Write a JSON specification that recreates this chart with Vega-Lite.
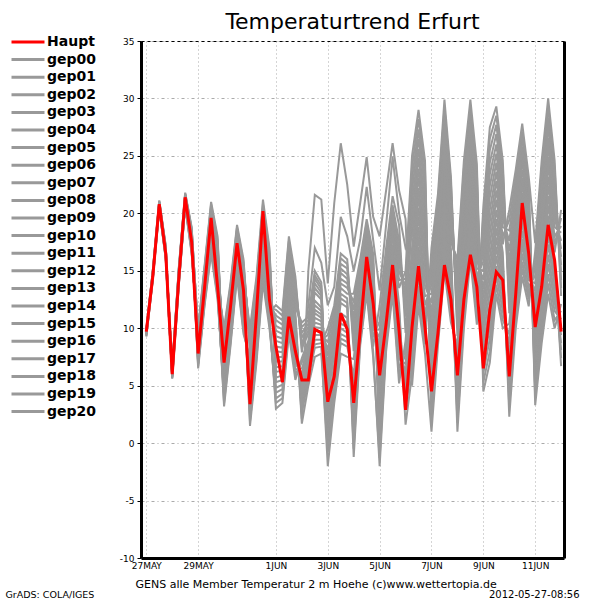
{
"$schema": "https://vega.github.io/schema/vega-lite/v6.json",
"width": 423, "height": 517,
"autosize": {"type": "none"},
"padding": {"left": 141, "top": 41, "right": 36, "bottom": 42},
"background": "white",
"title": {"text": "Temperaturtrend Erfurt", "font": "DejaVu Sans", "fontSize": 22, "fontWeight": "normal", "color": "black", "anchor": "middle", "frame": "group", "baseline": "alphabetic", "offset": -16},
"data": {"values": [
{"t":"2012-05-27T00:00","Haupt":9.7,"gep00":9.3,"gep01":9.3,"gep02":9.4,"gep03":9.4,"gep04":9.4,"gep05":9.5,"gep06":9.5,"gep07":9.5,"gep08":9.5,"gep09":9.6,"gep10":9.6,"gep11":9.6,"gep12":9.7,"gep13":9.7,"gep14":9.7,"gep15":9.8,"gep16":9.8,"gep17":9.8,"gep18":9.8,"gep19":9.9,"gep20":9.9},
{"t":"2012-05-27T06:00","Haupt":14.5,"gep00":14.2,"gep01":14.2,"gep02":14.3,"gep03":14.3,"gep04":14.4,"gep05":14.4,"gep06":14.4,"gep07":14.5,"gep08":14.5,"gep09":14.6,"gep10":14.6,"gep11":14.6,"gep12":14.7,"gep13":14.7,"gep14":14.8,"gep15":14.8,"gep16":14.8,"gep17":14.9,"gep18":14.9,"gep19":15.0,"gep20":15.0},
{"t":"2012-05-27T12:00","Haupt":20.8,"gep00":20.4,"gep01":20.4,"gep02":20.5,"gep03":20.5,"gep04":20.5,"gep05":20.6,"gep06":20.6,"gep07":20.6,"gep08":20.7,"gep09":20.7,"gep10":20.8,"gep11":20.8,"gep12":20.8,"gep13":20.9,"gep14":20.9,"gep15":20.9,"gep16":21.0,"gep17":21.0,"gep18":21.0,"gep19":21.1,"gep20":21.1},
{"t":"2012-05-27T18:00","Haupt":16.5,"gep00":16.0,"gep01":16.1,"gep02":16.1,"gep03":16.2,"gep04":16.2,"gep05":16.3,"gep06":16.4,"gep07":16.4,"gep08":16.5,"gep09":16.5,"gep10":16.6,"gep11":16.7,"gep12":16.7,"gep13":16.8,"gep14":16.8,"gep15":16.9,"gep16":17.0,"gep17":17.0,"gep18":17.1,"gep19":17.1,"gep20":17.2},
{"t":"2012-05-28T00:00","Haupt":6.0,"gep00":5.85,"gep01":5.8,"gep02":5.75,"gep03":5.7,"gep04":5.65,"gep05":5.6,"gep06":6.6,"gep07":6.55,"gep08":6.5,"gep09":6.45,"gep10":6.4,"gep11":6.35,"gep12":6.3,"gep13":6.25,"gep14":6.2,"gep15":6.15,"gep16":6.1,"gep17":6.05,"gep18":6.0,"gep19":5.95,"gep20":5.9},
{"t":"2012-05-28T06:00","Haupt":14.2,"gep00":14.0,"gep01":13.9,"gep02":13.8,"gep03":13.8,"gep04":13.7,"gep05":13.6,"gep06":15.2,"gep07":15.1,"gep08":15.0,"gep09":15.0,"gep10":14.9,"gep11":14.8,"gep12":14.7,"gep13":14.6,"gep14":14.6,"gep15":14.5,"gep16":14.4,"gep17":14.3,"gep18":14.2,"gep19":14.2,"gep20":14.1},
{"t":"2012-05-28T12:00","Haupt":21.4,"gep00":20.9,"gep01":20.8,"gep02":20.8,"gep03":20.7,"gep04":20.7,"gep05":20.6,"gep06":21.8,"gep07":21.7,"gep08":21.7,"gep09":21.6,"gep10":21.6,"gep11":21.5,"gep12":21.4,"gep13":21.4,"gep14":21.3,"gep15":21.3,"gep16":21.2,"gep17":21.1,"gep18":21.1,"gep19":21.0,"gep20":21.0},
{"t":"2012-05-28T18:00","Haupt":17.5,"gep00":17.1,"gep01":17.0,"gep02":16.8,"gep03":16.7,"gep04":16.6,"gep05":16.5,"gep06":18.8,"gep07":18.7,"gep08":18.6,"gep09":18.5,"gep10":18.3,"gep11":18.2,"gep12":18.1,"gep13":18.0,"gep14":17.9,"gep15":17.8,"gep16":17.7,"gep17":17.5,"gep18":17.4,"gep19":17.3,"gep20":17.2},
{"t":"2012-05-29T00:00","Haupt":7.8,"gep00":8.3,"gep01":8.4,"gep02":8.6,"gep03":8.8,"gep04":9.0,"gep05":9.1,"gep06":9.3,"gep07":9.5,"gep08":9.7,"gep09":9.8,"gep10":10.0,"gep11":6.5,"gep12":6.7,"gep13":6.9,"gep14":7.0,"gep15":7.2,"gep16":7.4,"gep17":7.6,"gep18":7.7,"gep19":7.9,"gep20":8.1},
{"t":"2012-05-29T06:00","Haupt":13.6,"gep00":13.8,"gep01":13.9,"gep02":14.1,"gep03":14.3,"gep04":14.5,"gep05":14.6,"gep06":14.8,"gep07":15.0,"gep08":15.2,"gep09":15.3,"gep10":15.5,"gep11":12.0,"gep12":12.2,"gep13":12.4,"gep14":12.5,"gep15":12.7,"gep16":12.9,"gep17":13.1,"gep18":13.2,"gep19":13.4,"gep20":13.6},
{"t":"2012-05-29T12:00","Haupt":19.6,"gep00":18.8,"gep01":19.0,"gep02":19.2,"gep03":19.4,"gep04":19.7,"gep05":19.9,"gep06":20.1,"gep07":20.3,"gep08":20.6,"gep09":20.8,"gep10":21.0,"gep11":16.5,"gep12":16.7,"gep13":17.0,"gep14":17.2,"gep15":17.4,"gep16":17.6,"gep17":17.9,"gep18":18.1,"gep19":18.3,"gep20":18.5},
{"t":"2012-05-29T18:00","Haupt":13.6,"gep00":15.3,"gep01":15.5,"gep02":15.8,"gep03":16.1,"gep04":16.4,"gep05":16.6,"gep06":16.9,"gep07":17.2,"gep08":17.5,"gep09":17.7,"gep10":18.0,"gep11":12.5,"gep12":12.8,"gep13":13.1,"gep14":13.3,"gep15":13.6,"gep16":13.9,"gep17":14.2,"gep18":14.4,"gep19":14.7,"gep20":15.0},
{"t":"2012-05-30T00:00","Haupt":7.0,"gep00":8.3,"gep01":8.0,"gep02":7.6,"gep03":7.3,"gep04":6.9,"gep05":6.6,"gep06":6.3,"gep07":5.9,"gep08":5.6,"gep09":5.2,"gep10":4.9,"gep11":4.6,"gep12":4.2,"gep13":3.9,"gep14":3.5,"gep15":3.2,"gep16":10.0,"gep17":9.7,"gep18":9.3,"gep19":9.0,"gep20":8.6},
{"t":"2012-05-30T06:00","Haupt":11.9,"gep00":12.6,"gep01":12.4,"gep02":12.1,"gep03":11.8,"gep04":11.5,"gep05":11.3,"gep06":11.0,"gep07":10.7,"gep08":10.4,"gep09":10.2,"gep10":9.9,"gep11":9.6,"gep12":9.3,"gep13":9.1,"gep14":8.8,"gep15":8.5,"gep16":14.0,"gep17":13.7,"gep18":13.5,"gep19":13.2,"gep20":12.9},
{"t":"2012-05-30T12:00","Haupt":17.4,"gep00":17.9,"gep01":17.7,"gep02":17.4,"gep03":17.2,"gep04":17.0,"gep05":16.8,"gep06":16.5,"gep07":16.3,"gep08":16.1,"gep09":15.9,"gep10":15.6,"gep11":15.4,"gep12":15.2,"gep13":15.0,"gep14":14.7,"gep15":14.5,"gep16":19.0,"gep17":18.8,"gep18":18.6,"gep19":18.3,"gep20":18.1},
{"t":"2012-05-30T18:00","Haupt":13.3,"gep00":14.4,"gep01":14.1,"gep02":13.7,"gep03":13.4,"gep04":13.1,"gep05":12.8,"gep06":12.4,"gep07":12.1,"gep08":11.8,"gep09":11.5,"gep10":11.1,"gep11":10.8,"gep12":10.5,"gep13":10.2,"gep14":9.8,"gep15":9.5,"gep16":16.0,"gep17":15.7,"gep18":15.4,"gep19":15.0,"gep20":14.7},
{"t":"2012-05-31T00:00","Haupt":3.4,"gep00":10.0,"gep01":1.5,"gep02":1.9,"gep03":2.4,"gep04":2.8,"gep05":3.2,"gep06":3.6,"gep07":4.1,"gep08":4.5,"gep09":4.9,"gep10":5.3,"gep11":5.8,"gep12":6.2,"gep13":6.6,"gep14":7.0,"gep15":7.5,"gep16":7.9,"gep17":8.3,"gep18":8.7,"gep19":9.2,"gep20":9.6},
{"t":"2012-05-31T06:00","Haupt":11.3,"gep00":14.5,"gep01":7.0,"gep02":7.4,"gep03":7.8,"gep04":8.1,"gep05":8.5,"gep06":8.9,"gep07":9.3,"gep08":9.6,"gep09":10.0,"gep10":10.4,"gep11":10.8,"gep12":11.1,"gep13":11.5,"gep14":11.9,"gep15":12.3,"gep16":12.6,"gep17":13.0,"gep18":13.4,"gep19":13.8,"gep20":14.1},
{"t":"2012-05-31T12:00","Haupt":20.2,"gep00":21.2,"gep01":14.0,"gep02":14.4,"gep03":14.7,"gep04":15.1,"gep05":15.4,"gep06":15.8,"gep07":16.2,"gep08":16.5,"gep09":16.9,"gep10":17.2,"gep11":17.6,"gep12":18.0,"gep13":18.3,"gep14":18.7,"gep15":19.0,"gep16":19.4,"gep17":19.8,"gep18":20.1,"gep19":20.5,"gep20":20.8},
{"t":"2012-05-31T18:00","Haupt":12.5,"gep00":17.0,"gep01":10.0,"gep02":10.4,"gep03":10.7,"gep04":11.1,"gep05":11.4,"gep06":11.8,"gep07":12.1,"gep08":12.5,"gep09":12.8,"gep10":13.2,"gep11":13.5,"gep12":13.9,"gep13":14.2,"gep14":14.6,"gep15":14.9,"gep16":15.3,"gep17":15.6,"gep18":16.0,"gep19":16.3,"gep20":16.7},
{"t":"2012-06-01T00:00","Haupt":8.4,"gep00":4.8,"gep01":4.4,"gep02":3.9,"gep03":3.5,"gep04":3.0,"gep05":12.0,"gep06":11.6,"gep07":11.1,"gep08":10.7,"gep09":10.2,"gep10":9.8,"gep11":9.3,"gep12":8.9,"gep13":8.4,"gep14":8.0,"gep15":7.5,"gep16":7.1,"gep17":6.6,"gep18":6.2,"gep19":5.7,"gep20":5.3},
{"t":"2012-06-01T06:00","Haupt":5.3,"gep00":5.1,"gep01":4.7,"gep02":4.3,"gep03":3.9,"gep04":3.5,"gep05":11.5,"gep06":11.1,"gep07":10.7,"gep08":10.3,"gep09":9.9,"gep10":9.5,"gep11":9.1,"gep12":8.7,"gep13":8.3,"gep14":7.9,"gep15":7.5,"gep16":7.1,"gep17":6.7,"gep18":6.3,"gep19":5.9,"gep20":5.5},
{"t":"2012-06-01T12:00","Haupt":11.0,"gep00":11.2,"gep01":10.8,"gep02":10.4,"gep03":9.9,"gep04":9.5,"gep05":18.0,"gep06":17.6,"gep07":17.2,"gep08":16.7,"gep09":16.3,"gep10":15.9,"gep11":15.5,"gep12":15.0,"gep13":14.6,"gep14":14.2,"gep15":13.8,"gep16":13.3,"gep17":12.9,"gep18":12.5,"gep19":12.1,"gep20":11.6},
{"t":"2012-06-01T18:00","Haupt":8.0,"gep00":7.3,"gep01":6.9,"gep02":6.4,"gep03":6.0,"gep04":5.5,"gep05":14.5,"gep06":14.1,"gep07":13.6,"gep08":13.2,"gep09":12.7,"gep10":12.3,"gep11":11.8,"gep12":11.4,"gep13":10.9,"gep14":10.5,"gep15":10.0,"gep16":9.6,"gep17":9.1,"gep18":8.7,"gep19":8.2,"gep20":7.8},
{"t":"2012-06-02T00:00","Haupt":5.5,"gep00":5.7,"gep01":6.1,"gep02":6.5,"gep03":7.0,"gep04":7.4,"gep05":7.9,"gep06":8.3,"gep07":8.7,"gep08":9.2,"gep09":9.6,"gep10":10.1,"gep11":10.5,"gep12":1.7,"gep13":2.1,"gep14":2.6,"gep15":3.0,"gep16":3.5,"gep17":3.9,"gep18":4.3,"gep19":4.8,"gep20":5.2},
{"t":"2012-06-02T06:00","Haupt":5.5,"gep00":7.7,"gep01":8.0,"gep02":8.3,"gep03":8.6,"gep04":8.9,"gep05":12.0,"gep06":9.5,"gep07":9.8,"gep08":10.1,"gep09":10.4,"gep10":10.7,"gep11":11.0,"gep12":5.0,"gep13":15.0,"gep14":5.6,"gep15":5.9,"gep16":6.2,"gep17":6.5,"gep18":6.8,"gep19":7.1,"gep20":7.4},
{"t":"2012-06-02T12:00","Haupt":9.9,"gep00":10.9,"gep01":11.3,"gep02":11.6,"gep03":12.0,"gep04":12.4,"gep05":17.0,"gep06":13.1,"gep07":13.5,"gep08":13.9,"gep09":14.3,"gep10":14.6,"gep11":15.0,"gep12":7.5,"gep13":21.6,"gep14":8.3,"gep15":8.6,"gep16":9.0,"gep17":9.4,"gep18":9.8,"gep19":10.1,"gep20":10.5},
{"t":"2012-06-02T18:00","Haupt":9.6,"gep00":10.6,"gep01":10.9,"gep02":11.2,"gep03":11.5,"gep04":11.8,"gep05":15.7,"gep06":12.5,"gep07":12.8,"gep08":13.1,"gep09":13.4,"gep10":13.7,"gep11":14.0,"gep12":7.8,"gep13":21.2,"gep14":8.4,"gep15":8.7,"gep16":9.0,"gep17":9.4,"gep18":9.7,"gep19":10.0,"gep20":10.3},
{"t":"2012-06-03T00:00","Haupt":3.6,"gep00":6.4,"gep01":5.8,"gep02":5.2,"gep03":4.6,"gep04":4.0,"gep05":12.0,"gep06":2.8,"gep07":2.2,"gep08":1.6,"gep09":1.0,"gep10":0.4,"gep11":-0.2,"gep12":-0.8,"gep13":13.9,"gep14":-2.0,"gep15":10.0,"gep16":9.4,"gep17":8.8,"gep18":8.2,"gep19":7.6,"gep20":7.0},
{"t":"2012-06-03T06:00","Haupt":5.8,"gep00":9.5,"gep01":9.0,"gep02":8.6,"gep03":8.2,"gep04":7.8,"gep05":13.6,"gep06":6.9,"gep07":6.5,"gep08":6.1,"gep09":5.6,"gep10":5.2,"gep11":4.8,"gep12":4.4,"gep13":20.9,"gep14":3.5,"gep15":12.0,"gep16":11.6,"gep17":11.2,"gep18":10.7,"gep19":10.3,"gep20":9.9},
{"t":"2012-06-03T12:00","Haupt":11.3,"gep00":13.9,"gep01":13.5,"gep02":13.0,"gep03":12.6,"gep04":12.2,"gep05":19.7,"gep06":11.3,"gep07":10.8,"gep08":10.4,"gep09":10.0,"gep10":9.5,"gep11":9.1,"gep12":8.7,"gep13":26.1,"gep14":7.8,"gep15":16.5,"gep16":16.1,"gep17":15.6,"gep18":15.2,"gep19":14.8,"gep20":14.3},
{"t":"2012-06-03T18:00","Haupt":9.9,"gep00":13.5,"gep01":13.0,"gep02":12.6,"gep03":12.2,"gep04":11.8,"gep05":18.0,"gep06":10.9,"gep07":10.5,"gep08":10.1,"gep09":9.6,"gep10":9.2,"gep11":8.8,"gep12":8.4,"gep13":22.5,"gep14":7.5,"gep15":16.0,"gep16":15.6,"gep17":15.2,"gep18":14.7,"gep19":14.3,"gep20":13.9},
{"t":"2012-06-04T00:00","Haupt":3.5,"gep00":12.3,"gep01":13.0,"gep02":-1.2,"gep03":-0.5,"gep04":0.2,"gep05":15.0,"gep06":1.6,"gep07":2.4,"gep08":3.1,"gep09":3.8,"gep10":4.5,"gep11":5.2,"gep12":5.9,"gep13":17.1,"gep14":7.3,"gep15":8.0,"gep16":8.7,"gep17":9.5,"gep18":10.2,"gep19":10.9,"gep20":11.6},
{"t":"2012-06-04T06:00","Haupt":9.8,"gep00":15.6,"gep01":16.0,"gep02":8.5,"gep03":8.9,"gep04":9.3,"gep05":17.7,"gep06":10.0,"gep07":10.4,"gep08":10.8,"gep09":11.1,"gep10":11.5,"gep11":11.9,"gep12":12.3,"gep13":20.9,"gep14":13.0,"gep15":13.4,"gep16":13.8,"gep17":14.1,"gep18":14.5,"gep19":14.9,"gep20":15.3},
{"t":"2012-06-04T12:00","Haupt":16.2,"gep00":19.2,"gep01":19.5,"gep02":13.0,"gep03":13.3,"gep04":13.7,"gep05":22.3,"gep06":14.3,"gep07":14.6,"gep08":15.0,"gep09":15.3,"gep10":15.6,"gep11":15.9,"gep12":16.3,"gep13":24.9,"gep14":16.9,"gep15":17.2,"gep16":17.6,"gep17":17.9,"gep18":18.2,"gep19":18.5,"gep20":18.9},
{"t":"2012-06-04T18:00","Haupt":12.2,"gep00":16.1,"gep01":16.5,"gep02":7.5,"gep03":8.0,"gep04":8.4,"gep05":17.7,"gep06":9.3,"gep07":9.8,"gep08":10.2,"gep09":10.7,"gep10":11.1,"gep11":11.6,"gep12":12.0,"gep13":19.7,"gep14":12.9,"gep15":13.4,"gep16":13.8,"gep17":14.3,"gep18":14.7,"gep19":15.2,"gep20":15.6},
{"t":"2012-06-05T00:00","Haupt":5.9,"gep00":0.1,"gep01":-0.6,"gep02":-1.3,"gep03":-2.0,"gep04":12.0,"gep05":13.3,"gep06":10.6,"gep07":9.9,"gep08":9.2,"gep09":8.5,"gep10":7.8,"gep11":7.1,"gep12":6.4,"gep13":18.0,"gep14":5.0,"gep15":4.3,"gep16":3.6,"gep17":2.9,"gep18":2.2,"gep19":1.5,"gep20":0.8},
{"t":"2012-06-05T06:00","Haupt":10.4,"gep00":9.4,"gep01":8.9,"gep02":8.5,"gep03":8.0,"gep04":17.0,"gep05":19.0,"gep06":16.1,"gep07":15.7,"gep08":15.2,"gep09":14.8,"gep10":14.3,"gep11":13.9,"gep12":13.4,"gep13":22.0,"gep14":12.5,"gep15":12.1,"gep16":11.6,"gep17":11.2,"gep18":10.7,"gep19":10.3,"gep20":9.8},
{"t":"2012-06-05T12:00","Haupt":15.5,"gep00":14.3,"gep01":13.9,"gep02":13.4,"gep03":13.0,"gep04":21.5,"gep05":24.9,"gep06":20.7,"gep07":20.2,"gep08":19.8,"gep09":19.4,"gep10":19.0,"gep11":18.5,"gep12":18.1,"gep13":26.1,"gep14":17.3,"gep15":16.8,"gep16":16.4,"gep17":16.0,"gep18":15.6,"gep19":15.1,"gep20":14.7},
{"t":"2012-06-05T18:00","Haupt":9.8,"gep00":7.3,"gep01":6.6,"gep02":5.9,"gep03":5.2,"gep04":19.0,"gep05":20.0,"gep06":17.6,"gep07":16.9,"gep08":16.2,"gep09":15.6,"gep10":14.9,"gep11":14.2,"gep12":13.5,"gep13":22.0,"gep14":12.1,"gep15":11.4,"gep16":10.7,"gep17":10.0,"gep18":9.3,"gep19":8.7,"gep20":8.0},
{"t":"2012-06-06T00:00","Haupt":2.9,"gep00":6.9,"gep01":7.6,"gep02":8.3,"gep03":8.9,"gep04":9.6,"gep05":17.0,"gep06":11.0,"gep07":11.6,"gep08":12.3,"gep09":13.0,"gep10":13.7,"gep11":14.3,"gep12":15.0,"gep13":19.5,"gep14":1.6,"gep15":2.9,"gep16":3.5,"gep17":4.2,"gep18":4.9,"gep19":5.6,"gep20":6.2},
{"t":"2012-06-06T06:00","Haupt":10.1,"gep00":13.0,"gep01":14.0,"gep02":15.0,"gep03":16.0,"gep04":17.0,"gep05":18.0,"gep06":19.0,"gep07":20.0,"gep08":21.0,"gep09":22.0,"gep10":23.0,"gep11":24.0,"gep12":25.0,"gep13":5.0,"gep14":6.0,"gep15":7.0,"gep16":8.0,"gep17":9.0,"gep18":10.0,"gep19":11.0,"gep20":12.0},
{"t":"2012-06-06T12:00","Haupt":15.4,"gep00":18.8,"gep01":19.7,"gep02":20.5,"gep03":21.4,"gep04":22.2,"gep05":23.1,"gep06":23.9,"gep07":24.8,"gep08":25.6,"gep09":26.5,"gep10":27.3,"gep11":28.2,"gep12":29.0,"gep13":12.0,"gep14":12.9,"gep15":13.7,"gep16":14.6,"gep17":15.4,"gep18":16.3,"gep19":17.1,"gep20":18.0},
{"t":"2012-06-06T18:00","Haupt":10.1,"gep00":14.5,"gep01":15.4,"gep02":16.2,"gep03":17.0,"gep04":17.9,"gep05":18.7,"gep06":19.6,"gep07":20.4,"gep08":21.2,"gep09":22.1,"gep10":22.9,"gep11":23.8,"gep12":24.6,"gep13":7.8,"gep14":8.6,"gep15":9.5,"gep16":10.3,"gep17":11.2,"gep18":12.0,"gep19":12.8,"gep20":13.7},
{"t":"2012-06-07T00:00","Haupt":4.5,"gep00":11.4,"gep01":10.6,"gep02":9.8,"gep03":9.0,"gep04":8.2,"gep05":7.4,"gep06":6.6,"gep07":5.8,"gep08":5.0,"gep09":4.2,"gep10":3.4,"gep11":2.6,"gep12":1.8,"gep13":1.0,"gep14":17.0,"gep15":16.2,"gep16":15.4,"gep17":14.6,"gep18":13.8,"gep19":13.0,"gep20":12.2},
{"t":"2012-06-07T06:00","Haupt":9.6,"gep00":17.1,"gep01":16.4,"gep02":15.8,"gep03":15.1,"gep04":14.4,"gep05":13.8,"gep06":13.1,"gep07":12.5,"gep08":11.8,"gep09":11.1,"gep10":10.5,"gep11":9.8,"gep12":9.2,"gep13":8.5,"gep14":21.7,"gep15":21.0,"gep16":20.4,"gep17":19.7,"gep18":19.1,"gep19":18.4,"gep20":17.7},
{"t":"2012-06-07T12:00","Haupt":15.5,"gep00":24.7,"gep01":23.9,"gep02":23.2,"gep03":22.5,"gep04":21.7,"gep05":21.0,"gep06":20.2,"gep07":19.5,"gep08":18.7,"gep09":18.0,"gep10":17.2,"gep11":16.5,"gep12":15.7,"gep13":15.0,"gep14":29.9,"gep15":29.2,"gep16":28.4,"gep17":27.7,"gep18":26.9,"gep19":26.2,"gep20":25.4},
{"t":"2012-06-07T18:00","Haupt":12.5,"gep00":18.8,"gep01":18.1,"gep02":17.5,"gep03":16.9,"gep04":16.2,"gep05":15.6,"gep06":14.9,"gep07":14.3,"gep08":13.7,"gep09":13.0,"gep10":12.4,"gep11":11.8,"gep12":11.1,"gep13":10.5,"gep14":23.2,"gep15":22.6,"gep16":21.9,"gep17":21.3,"gep18":20.7,"gep19":20.0,"gep20":19.4},
{"t":"2012-06-08T00:00","Haupt":5.9,"gep00":14.5,"gep01":15.3,"gep02":16.0,"gep03":1.0,"gep04":1.8,"gep05":2.5,"gep06":3.3,"gep07":4.0,"gep08":4.8,"gep09":5.5,"gep10":6.3,"gep11":7.0,"gep12":7.8,"gep13":8.5,"gep14":9.3,"gep15":10.0,"gep16":10.8,"gep17":11.5,"gep18":12.3,"gep19":13.0,"gep20":13.8},
{"t":"2012-06-08T06:00","Haupt":12.5,"gep00":23.1,"gep01":23.9,"gep02":24.6,"gep03":10.0,"gep04":10.7,"gep05":11.5,"gep06":12.2,"gep07":12.9,"gep08":13.7,"gep09":14.4,"gep10":15.1,"gep11":15.8,"gep12":16.6,"gep13":17.3,"gep14":18.0,"gep15":18.8,"gep16":19.5,"gep17":20.2,"gep18":21.0,"gep19":21.7,"gep20":22.4},
{"t":"2012-06-08T12:00","Haupt":16.4,"gep00":28.5,"gep01":29.2,"gep02":29.9,"gep03":16.0,"gep04":16.7,"gep05":17.4,"gep06":18.1,"gep07":18.8,"gep08":19.5,"gep09":20.2,"gep10":20.9,"gep11":21.6,"gep12":22.3,"gep13":23.0,"gep14":23.6,"gep15":24.3,"gep16":25.0,"gep17":25.7,"gep18":26.4,"gep19":27.1,"gep20":27.8},
{"t":"2012-06-08T18:00","Haupt":13.6,"gep00":22.9,"gep01":23.6,"gep02":24.3,"gep03":10.3,"gep04":11.0,"gep05":11.7,"gep06":12.4,"gep07":13.1,"gep08":13.8,"gep09":14.5,"gep10":15.2,"gep11":15.9,"gep12":16.6,"gep13":17.3,"gep14":18.0,"gep15":18.7,"gep16":19.4,"gep17":20.1,"gep18":20.8,"gep19":21.5,"gep20":22.2},
{"t":"2012-06-09T00:00","Haupt":6.5,"gep00":6.1,"gep01":5.3,"gep02":4.5,"gep03":20.6,"gep04":19.8,"gep05":19.0,"gep06":18.2,"gep07":17.4,"gep08":16.6,"gep09":15.8,"gep10":15.0,"gep11":14.2,"gep12":13.4,"gep13":12.6,"gep14":11.7,"gep15":10.9,"gep16":10.1,"gep17":9.3,"gep18":8.5,"gep19":7.7,"gep20":6.9},
{"t":"2012-06-09T06:00","Haupt":11.6,"gep00":9.1,"gep01":8.0,"gep02":7.0,"gep03":27.5,"gep04":26.5,"gep05":25.5,"gep06":24.4,"gep07":23.4,"gep08":22.4,"gep09":21.4,"gep10":20.3,"gep11":19.3,"gep12":18.3,"gep13":17.3,"gep14":16.2,"gep15":15.2,"gep16":14.2,"gep17":13.2,"gep18":12.1,"gep19":11.1,"gep20":10.1},
{"t":"2012-06-09T12:00","Haupt":14.9,"gep00":14.6,"gep01":13.8,"gep02":13.0,"gep03":29.3,"gep04":28.5,"gep05":27.7,"gep06":26.9,"gep07":26.0,"gep08":25.2,"gep09":24.4,"gep10":23.6,"gep11":22.8,"gep12":22.0,"gep13":21.2,"gep14":20.3,"gep15":19.5,"gep16":18.7,"gep17":17.9,"gep18":17.1,"gep19":16.3,"gep20":15.4},
{"t":"2012-06-09T18:00","Haupt":14.2,"gep00":11.5,"gep01":10.7,"gep02":10.0,"gep03":24.6,"gep04":23.9,"gep05":23.1,"gep06":22.4,"gep07":21.7,"gep08":21.0,"gep09":20.2,"gep10":19.5,"gep11":18.8,"gep12":18.0,"gep13":17.3,"gep14":16.6,"gep15":15.8,"gep16":15.1,"gep17":14.4,"gep18":13.7,"gep19":12.9,"gep20":12.2},
{"t":"2012-06-10T00:00","Haupt":5.8,"gep00":8.6,"gep01":9.5,"gep02":10.4,"gep03":11.3,"gep04":12.2,"gep05":13.1,"gep06":14.0,"gep07":14.9,"gep08":15.8,"gep09":16.7,"gep10":17.6,"gep11":18.5,"gep12":19.4,"gep13":20.3,"gep14":2.3,"gep15":3.2,"gep16":4.1,"gep17":5.0,"gep18":5.9,"gep19":6.8,"gep20":7.7},
{"t":"2012-06-10T06:00","Haupt":13.0,"gep00":14.8,"gep01":15.5,"gep02":16.2,"gep03":16.9,"gep04":17.6,"gep05":18.3,"gep06":19.0,"gep07":19.7,"gep08":20.4,"gep09":21.0,"gep10":21.7,"gep11":22.4,"gep12":23.1,"gep13":23.8,"gep14":10.0,"gep15":10.7,"gep16":11.4,"gep17":12.1,"gep18":12.8,"gep19":13.5,"gep20":14.1},
{"t":"2012-06-10T12:00","Haupt":20.9,"gep00":19.2,"gep01":19.8,"gep02":20.5,"gep03":21.2,"gep04":21.8,"gep05":22.5,"gep06":23.1,"gep07":23.8,"gep08":24.5,"gep09":25.1,"gep10":25.8,"gep11":26.5,"gep12":27.1,"gep13":27.8,"gep14":14.5,"gep15":15.2,"gep16":15.8,"gep17":16.5,"gep18":17.2,"gep19":17.8,"gep20":18.5},
{"t":"2012-06-10T18:00","Haupt":16.5,"gep00":15.9,"gep01":16.4,"gep02":17.0,"gep03":17.6,"gep04":18.1,"gep05":18.7,"gep06":19.2,"gep07":19.8,"gep08":20.4,"gep09":20.9,"gep10":21.5,"gep11":22.1,"gep12":22.6,"gep13":23.2,"gep14":11.9,"gep15":12.5,"gep16":13.0,"gep17":13.6,"gep18":14.2,"gep19":14.7,"gep20":15.3},
{"t":"2012-06-11T00:00","Haupt":10.1,"gep00":11.8,"gep01":11.1,"gep02":10.4,"gep03":9.6,"gep04":8.9,"gep05":8.2,"gep06":7.5,"gep07":6.8,"gep08":6.1,"gep09":5.4,"gep10":4.7,"gep11":4.0,"gep12":3.3,"gep13":17.4,"gep14":16.7,"gep15":16.0,"gep16":15.3,"gep17":14.6,"gep18":13.9,"gep19":13.2,"gep20":12.5},
{"t":"2012-06-11T06:00","Haupt":13.6,"gep00":18.2,"gep01":17.4,"gep02":16.7,"gep03":15.9,"gep04":15.1,"gep05":14.3,"gep06":13.5,"gep07":12.7,"gep08":11.9,"gep09":11.1,"gep10":10.3,"gep11":9.5,"gep12":8.7,"gep13":24.6,"gep14":23.8,"gep15":23.0,"gep16":22.2,"gep17":21.4,"gep18":20.6,"gep19":19.8,"gep20":19.0},
{"t":"2012-06-11T12:00","Haupt":19.0,"gep00":23.2,"gep01":22.4,"gep02":21.5,"gep03":20.7,"gep04":19.8,"gep05":19.0,"gep06":18.1,"gep07":17.3,"gep08":16.4,"gep09":15.6,"gep10":14.7,"gep11":13.9,"gep12":13.0,"gep13":30.0,"gep14":29.2,"gep15":28.3,"gep16":27.5,"gep17":26.6,"gep18":25.8,"gep19":24.9,"gep20":24.1},
{"t":"2012-06-11T18:00","Haupt":15.9,"gep00":18.8,"gep01":18.0,"gep02":17.3,"gep03":16.6,"gep04":15.8,"gep05":15.1,"gep06":14.4,"gep07":13.7,"gep08":12.9,"gep09":12.2,"gep10":11.5,"gep11":10.7,"gep12":10.0,"gep13":24.6,"gep14":23.9,"gep15":23.1,"gep16":22.4,"gep17":21.7,"gep18":21.0,"gep19":20.2,"gep20":19.5},
{"t":"2012-06-12T00:00","Haupt":9.7,"gep00":18.3,"gep01":18.9,"gep02":19.6,"gep03":20.3,"gep04":6.7,"gep05":7.4,"gep06":8.1,"gep07":8.7,"gep08":9.4,"gep09":10.1,"gep10":10.8,"gep11":11.5,"gep12":12.1,"gep13":12.8,"gep14":13.5,"gep15":14.2,"gep16":14.9,"gep17":15.5,"gep18":16.2,"gep19":16.9,"gep20":17.6}
]},
"transform": [{"fold": ["Haupt","gep00","gep01","gep02","gep03","gep04","gep05","gep06","gep07","gep08","gep09","gep10","gep11","gep12","gep13","gep14","gep15","gep16","gep17","gep18","gep19","gep20"], "as": ["series","temp"]}],
"encoding": {
  "color": {"field": "series", "type": "nominal",
    "scale": {"domain": ["Haupt","gep00","gep01","gep02","gep03","gep04","gep05","gep06","gep07","gep08","gep09","gep10","gep11","gep12","gep13","gep14","gep15","gep16","gep17","gep18","gep19","gep20"],
      "range": ["#ff0000","#999999","#999999","#999999","#999999","#999999","#999999","#999999","#999999","#999999","#999999","#999999","#999999","#999999","#999999","#999999","#999999","#999999","#999999","#999999","#999999","#999999"]},
    "legend": {"title": null, "orient": "none", "legendX": -131, "legendY": -6, "symbolType": "M-1,0H5", "symbolSize": 121, "symbolStrokeWidth": 3, "labelFont": "DejaVu Sans", "labelFontSize": 14, "labelFontWeight": "bold", "labelColor": "black", "rowPadding": 3.6, "labelOffset": 23, "labelLimit": 200}}
},
"layer": [
  {"transform": [{"filter": "datum.series !== 'Haupt'"}],
   "mark": {"type": "line", "strokeWidth": 2},
   "encoding": {
     "x": {"field": "t", "type": "temporal",
       "scale": {"domain": [{"year": 2012, "month": 5, "date": 26, "hours": 19, "minutes": 6}, {"year": 2012, "month": 6, "date": 12, "hours": 2, "minutes": 40}]},
       "axis": {"orient": "bottom", "values": [{"year": 2012, "month": 5, "date": 27}, {"year": 2012, "month": 5, "date": 29}, {"year": 2012, "month": 6, "date": 1}, {"year": 2012, "month": 6, "date": 3}, {"year": 2012, "month": 6, "date": 5}, {"year": 2012, "month": 6, "date": 7}, {"year": 2012, "month": 6, "date": 9}, {"year": 2012, "month": 6, "date": 11}],
         "labelExpr": "upper(timeFormat(datum.value, '%-d%b'))", "labelFont": "DejaVu Sans", "labelFontSize": 9, "labelColor": "black", "labelPadding": 3, "labelFlush": false, "labelOverlap": false,
         "ticks": false, "domainColor": "black", "domainWidth": 3, "grid": true, "gridColor": "#aaaaaa", "gridDash": [1, 3], "gridWidth": 1,
         "title": "GENS alle Member Temperatur 2 m Hoehe (c)www.wettertopia.de", "titleFont": "DejaVu Sans", "titleFontSize": 11, "titleFontWeight": "normal", "titleColor": "black", "titleX": -6, "titleY": 29, "titleAlign": "left", "titleBaseline": "alphabetic"}},
     "y": {"field": "temp", "type": "quantitative",
       "scale": {"domain": [-10, 35], "nice": false, "zero": false},
       "axis": {"orient": "left", "values": [-10, -5, 0, 5, 10, 15, 20, 25, 30, 35], "labelExpr": "datum.value + ''", "labelFont": "DejaVu Sans", "labelFontSize": 9, "labelColor": "black", "labelPadding": 3, "labelOverlap": false, "labelFlush": false,
         "ticks": true, "tickSize": 4, "tickColor": "black", "tickWidth": 1, "domainColor": "black", "domainWidth": 3, "grid": true, "gridColor": "#aaaaaa", "gridDash": [3, 3, 1, 3], "gridWidth": 1, "title": null}}
   }},
  {"transform": [{"filter": "datum.series === 'Haupt'"}],
   "mark": {"type": "line", "strokeWidth": 3},
   "encoding": {
     "x": {"field": "t", "type": "temporal",
       "scale": {"domain": [{"year": 2012, "month": 5, "date": 26, "hours": 19, "minutes": 6}, {"year": 2012, "month": 6, "date": 12, "hours": 2, "minutes": 40}]},
       "axis": {"orient": "top", "labels": false, "ticks": false, "grid": false, "domainColor": "black", "domainWidth": 1, "domainDash": [3, 3],
         "title": "GrADS: COLA/IGES", "titleFont": "DejaVu Sans", "titleFontSize": 9.5, "titleFontWeight": "normal", "titleColor": "black", "titleX": -136, "titleY": 553, "titleAlign": "left", "titleBaseline": "middle"}},
     "y": {"field": "temp", "type": "quantitative",
       "scale": {"domain": [-10, 35], "nice": false, "zero": false},
       "axis": {"orient": "right", "labels": false, "ticks": false, "grid": false, "domainColor": "black", "domainWidth": 3,
         "title": "2012-05-27-08:56", "titleFont": "DejaVu Sans", "titleFontSize": 10, "titleFontWeight": "normal", "titleColor": "black", "titleAngle": 0, "titleX": 15, "titleY": 553, "titleAlign": "right", "titleBaseline": "middle"}}
   }}
],
"resolve": {"axis": {"x": "independent", "y": "independent"}},
"config": {"view": {"stroke": null}}
}
